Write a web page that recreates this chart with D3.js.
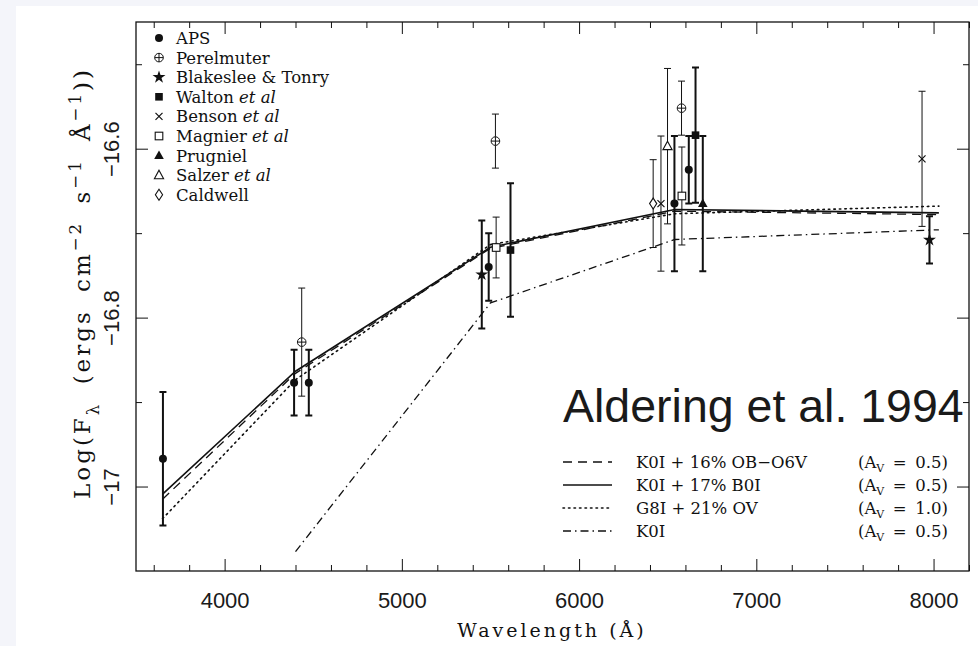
<!DOCTYPE html>
<html lang="en">
<head>
<meta charset="UTF-8">
<script src="https://cdn.jsdelivr.net/npm/d3@7"></script>
<title>Aldering et al. 1994</title>
<style>
    body { margin: 0; background: #f4f5fa; }
    svg { display: block; }
    .serif { font-family: 'DejaVu Serif', serif; fill: #111; }
    .sans { font-family: 'Liberation Sans', Arial, sans-serif; fill: #1a1a1a; }
    .axis path { display: none; }
    .axis line { stroke: #111; stroke-width: 1; }
</style>
</head>
<body>
<svg id="chart" width="978" height="646"></svg>
<script>
// sources in legend order
const sources = ["APS", "Perelmuter", "Blakeslee & Tonry", "Walton et al", "Benson et al",
    "Magnier et al", "Prugniel", "Salzer et al", "Caldwell"];

// photometry: source, wavelength (A), log F, error
const obsSource = ["APS", "APS", "Perelmuter", "APS", "Blakeslee & Tonry", "APS", "Perelmuter",
    "Magnier et al", "Walton et al", "Caldwell", "Benson et al", "Salzer et al", "APS", "Perelmuter",
    "Magnier et al", "APS", "Walton et al", "Prugniel", "Benson et al", "Blakeslee & Tonry"];
const obsWave = [3652, 4392, 4435, 4475, 5451, 5490, 5528, 5532, 5613, 6418, 6462, 6499, 6538, 6578,
    6580, 6619, 6657, 6698, 7935, 7977];
const obsLogF = [-16.967, -16.877, -16.829, -16.877, -16.749, -16.740, -16.591, -16.717, -16.720, -16.665,
    -16.665, -16.597, -16.665, -16.552, -16.656, -16.625, -16.584, -16.665, -16.612, -16.708];
const obsErr = [0.079, 0.039, 0.064, 0.039, 0.064, 0.040, 0.032, 0.036, 0.079, 0.052, 0.080, 0.092,
    0.080, 0.032, 0.058, 0.040, 0.080, 0.080, 0.080, 0.028];

// model spectra at the band wavelengths
const modelWave = [3650, 4400, 5500, 6540, 8030];
const modelOBO6V = [-17.015, -16.866, -16.718, -16.674, -16.678];
const modelB0I = [-17.009, -16.8635, -16.7167, -16.672, -16.676];
const modelOV = [-17.038, -16.8735, -16.7135, -16.677, -16.668];
const modelK0I = [null, -17.077, -16.7826, -16.7075, -16.696];
const modelLabels = ["K0I + 16% OB\u2212O6V", "K0I + 17% B0I", "G8I + 21% OV", "K0I"];
const modelAv = ["0.5", "0.5", "1.0", "0.5"];

const xMajor = [4000, 5000, 6000, 7000, 8000];
const xMinor = [3600, 3800, 4200, 4400, 4600, 4800, 5200, 5400, 5600, 5800, 6200, 6400, 6600, 6800,
    7200, 7400, 7600, 7800, 8200];
const yMajor = [-17, -16.8, -16.6];
const yMinor = [-16.9, -16.7, -16.5];
const yTickLabels = ["\u221217", "\u221216.8", "\u221216.6"];

const svg = d3.select("#chart");
const plotL = 136, plotR = 969, plotT = 22, plotB = 571;

svg.append("rect").attr("x", 16).attr("y", 6).attr("width", 962).attr("height", 640).attr("fill", "#fff");

const x = d3.scaleLinear().domain([3500, 8200]).range([plotL, plotR]);
const y = d3.scaleLinear().domain([-17.1, -16.45]).range([plotB, plotT]);

// axes, ticks pointing inwards on all four sides
svg.append("g").attr("class", "axis sans").attr("transform", `translate(0,${plotB})`)
    .call(d3.axisBottom(x).tickValues(xMajor).tickSize(-12).tickPadding(21).tickFormat(d3.format("d")))
    .selectAll("text").attr("font-size", 22).attr("font-family", "Liberation Sans").attr("fill", "#1a1a1a");
svg.append("g").attr("class", "axis").attr("transform", `translate(0,${plotB})`)
    .call(d3.axisBottom(x).tickValues(xMinor).tickSize(-6).tickFormat(""));
svg.append("g").attr("class", "axis").attr("transform", `translate(0,${plotT})`)
    .call(d3.axisTop(x).tickValues(xMajor).tickSize(-12).tickFormat(""));
svg.append("g").attr("class", "axis").attr("transform", `translate(0,${plotT})`)
    .call(d3.axisTop(x).tickValues(xMinor).tickSize(-6).tickFormat(""));

const yAxis = svg.append("g").attr("class", "axis").attr("transform", `translate(${plotL},0)`)
    .call(d3.axisLeft(y).tickValues(yMajor).tickSize(-12).tickFormat((d, i) => yTickLabels[i]));
yAxis.selectAll("text")
    .attr("x", null).attr("dy", "0.36em")
    .attr("text-anchor", "middle")
    .attr("transform", "translate(-25,0) rotate(-90)")
    .attr("font-size", 22).attr("font-family", "Liberation Sans").attr("fill", "#1a1a1a");
svg.append("g").attr("class", "axis").attr("transform", `translate(${plotL},0)`)
    .call(d3.axisLeft(y).tickValues(yMinor).tickSize(-6).tickFormat(""));
svg.append("g").attr("class", "axis").attr("transform", `translate(${plotR},0)`)
    .call(d3.axisRight(y).tickValues(yMajor).tickSize(-12).tickFormat(""));
svg.append("g").attr("class", "axis").attr("transform", `translate(${plotR},0)`)
    .call(d3.axisRight(y).tickValues(yMinor).tickSize(-6).tickFormat(""));

svg.append("rect").attr("x", plotL).attr("y", plotT).attr("width", plotR - plotL).attr("height", plotB - plotT)
    .attr("fill", "none").attr("stroke", "#111").attr("stroke-width", 1.3);

// axis titles
const addPieces = (text, pieces, size) => {
    let shift = 0;
    pieces.forEach(p => {
        const target = p[1];
        const ts = text.append("tspan").text(p[0]);
        if (target !== shift) ts.attr("dy", (target - shift) * size * 0.4);
        if (target !== 0) ts.attr("font-size", size * 0.72);
        shift = target;
    });
};

const xTitle = svg.append("text").attr("class", "serif")
    .attr("x", 552).attr("y", 637).attr("text-anchor", "middle")
    .attr("font-size", 19).attr("letter-spacing", 3);
xTitle.text("Wavelength (\u00c5)");

const yTitle = svg.append("text").attr("class", "serif")
    .attr("text-anchor", "middle")
    .attr("transform", "translate(90,283) rotate(-90)")
    .attr("font-size", 23).attr("letter-spacing", 3).attr("word-spacing", 7);
addPieces(yTitle, [["Log(F", 0], ["\u03bb", 1], [" (ergs cm", 0], ["\u22122", -1], [" s", 0],
    ["\u22121", -1], [" \u00c5", 0], ["\u22121", -1], ["))", 0]], 23);

// model curves
svg.append("clipPath").attr("id", "plotClip").append("rect")
    .attr("x", plotL).attr("y", plotT).attr("width", plotR - plotL).attr("height", plotB - plotT);

const modelSeries = [modelOBO6V, modelB0I, modelOV, modelK0I];
const dashes = ["9,6", null, "1.5,4", "8,4,1.5,4"];
const widths = [1.3, 1.6, 1.6, 1.3];

const line = d3.line()
    .defined(d => d[1] !== null)
    .x(d => x(d[0]))
    .y(d => y(d[1]));

const curves = svg.append("g").attr("clip-path", "url(#plotClip)");
modelSeries.forEach((s, i) => {
    curves.append("path")
        .datum(modelWave.map((w, j) => [w, s[j]]))
        .attr("d", line)
        .attr("fill", "none")
        .attr("stroke", "#111")
        .attr("stroke-width", widths[i])
        .attr("stroke-dasharray", dashes[i])
        .attr("stroke-linecap", i === 2 ? "round" : "butt");
});

// markers per source
const thickBars = ["APS", "Blakeslee & Tonry", "Walton et al", "Prugniel"];

const drawMarker = (g, src, cx, cy) => {
    const m = g.append("g").attr("transform", `translate(${cx},${cy})`);
    const ink = "#111";
    if (src === "APS") {
        m.append("circle").attr("r", 4).attr("fill", ink);
    } else if (src === "Perelmuter") {
        m.append("circle").attr("r", 4.3).attr("fill", "#fff").attr("stroke", ink).attr("stroke-width", 1);
        m.append("path").attr("d", "M-4.3,0H4.3M0,-4.3V4.3").attr("stroke", ink).attr("stroke-width", 1);
    } else if (src === "Blakeslee & Tonry") {
        m.append("path").attr("d", d3.symbol(d3.symbolStar, 52)()).attr("fill", ink);
    } else if (src === "Walton et al") {
        m.append("rect").attr("x", -3.8).attr("y", -3.8).attr("width", 7.6).attr("height", 7.6).attr("fill", ink);
    } else if (src === "Benson et al") {
        m.append("path").attr("d", "M-3.5,-3.5L3.5,3.5M-3.5,3.5L3.5,-3.5").attr("stroke", ink).attr("stroke-width", 1.2);
    } else if (src === "Magnier et al") {
        m.append("rect").attr("x", -3.8).attr("y", -3.8).attr("width", 7.6).attr("height", 7.6)
            .attr("fill", "#fff").attr("stroke", ink).attr("stroke-width", 1.1);
    } else if (src === "Prugniel") {
        m.append("path").attr("d", "M0,-5L4.8,3.5H-4.8Z").attr("fill", ink);
    } else if (src === "Salzer et al") {
        m.append("path").attr("d", "M0,-5L4.6,3.5H-4.6Z").attr("fill", "#fff").attr("stroke", ink).attr("stroke-width", 1.1);
    } else if (src === "Caldwell") {
        m.append("path").attr("d", "M0,-5.5L3.6,0L0,5.5L-3.6,0Z").attr("fill", "#fff").attr("stroke", ink).attr("stroke-width", 1.1);
    }
};

// error bars then markers
const pts = svg.append("g");
obsWave.forEach((w, i) => {
    const cx = x(w);
    const lo = y(obsLogF[i] - obsErr[i]), hi = y(obsLogF[i] + obsErr[i]);
    const sw = thickBars.includes(obsSource[i]) ? 2 : 1;
    pts.append("path")
        .attr("d", `M${cx},${lo}V${hi}M${cx - 3.5},${lo}H${cx + 3.5}M${cx - 3.5},${hi}H${cx + 3.5}`)
        .attr("stroke", "#111").attr("stroke-width", sw).attr("fill", "none");
});
obsWave.forEach((w, i) => drawMarker(pts, obsSource[i], x(w), y(obsLogF[i])));

// source legend, top left
const legend = svg.append("g");
sources.forEach((s, i) => {
    const ry = 38 + i * 19.6;
    drawMarker(legend, s, 159, ry);
    const t = legend.append("text").attr("class", "serif")
        .attr("x", 176).attr("y", ry).attr("dy", "0.36em").attr("font-size", 16.5);
    if (s.endsWith(" et al")) {
        t.append("tspan").text(s.replace(" et al", " "));
        t.append("tspan").attr("font-style", "italic").text("et al");
    } else {
        t.text(s);
    }
});

// big annotation
svg.append("text").attr("class", "sans")
    .attr("x", 563).attr("y", 422)
    .attr("font-size", 46.5)
    .text("Aldering et al. 1994");

// model legend, bottom right
const modelLegend = svg.append("g");
modelLabels.forEach((lab, i) => {
    const ry = 462 + i * 23;
    modelLegend.append("line")
        .attr("x1", 563).attr("x2", 612).attr("y1", ry).attr("y2", ry)
        .attr("stroke", "#111").attr("stroke-width", widths[i])
        .attr("stroke-dasharray", dashes[i])
        .attr("stroke-linecap", i === 2 ? "round" : "butt");
    modelLegend.append("text").attr("class", "serif")
        .attr("x", 636).attr("y", ry).attr("dy", "0.36em").attr("font-size", 16.5)
        .text(lab);
    const av = modelLegend.append("text").attr("class", "serif")
        .attr("x", 858).attr("y", ry).attr("dy", "0.36em").attr("font-size", 16.5);
    av.append("tspan").text("(A");
    av.append("tspan").attr("font-size", 11).attr("dy", 4).text("V");
    av.append("tspan").attr("dy", -4).text(" \u2009= \u2009" + modelAv[i] + ")");
});
</script>
</body>
</html>
